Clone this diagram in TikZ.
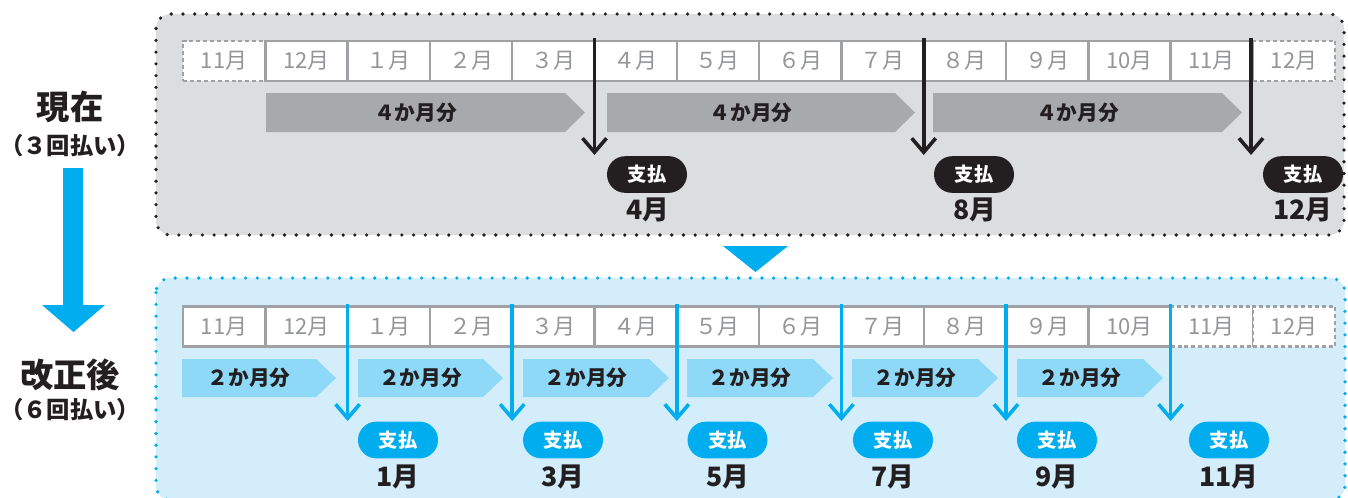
\documentclass[tikz,border=0pt]{standalone}
\usepackage{fontspec}
\setmainfont{Noto Sans CJK JP}
\usetikzlibrary{arrows.meta}
\definecolor{boxgray}{HTML}{DCDDDE}
\definecolor{arrgray}{HTML}{A7A9AC}
\definecolor{cellline}{HTML}{A0A1A4}
\definecolor{celltext}{HTML}{939598}
\definecolor{ink}{HTML}{231F20}
\definecolor{cyanb}{HTML}{00AEEF}
\definecolor{boxblue}{HTML}{D3EEFA}
\definecolor{arrblue}{HTML}{8ED8F8}
\begin{document}
\begin{tikzpicture}[x=0.75pt,y=-0.75pt,
  dotbox/.style={line width=2.7pt,dash pattern=on 0pt off 8.8pt,line cap=round,rounded corners=11pt},
  cell/.style={draw=cellline,line width=1.8pt,fill=white,minimum width=61.72pt,minimum height=30pt,inner sep=0pt,text=celltext,font=\fontsize{16.5}{16.5}\selectfont},
  dcell/.style={cell,dash pattern=on 3pt off 2.2pt},
  seglab/.style={font=\fontsize{15.5}{15.5}\selectfont\bfseries,text=ink,inner sep=0pt},
  pillK/.style={fill=ink,text=white,minimum width=60pt,minimum height=27.5pt,rounded corners=13.7pt,inner sep=0pt,font=\fontsize{14.5}{14.5}\selectfont\bfseries},
  pillB/.style={pillK,fill=cyanb},
  monlab/.style={font=\fontsize{20}{20}\selectfont\bfseries,text=ink,inner sep=0pt},
  paydown/.style={line width=2.7pt,-{Straight Barb[length=10.5pt,width=18pt]}},
  sidebig/.style={font=\fontsize{25}{25}\selectfont\bfseries,text=ink,inner sep=0pt},
  sidesmall/.style={font=\fontsize{17.5}{17.5}\selectfont\bfseries,text=ink,inner sep=0pt}
]
\clip (0,0) rectangle (1348,497);
\fill[white] (0,0) rectangle (1348,497);

% ---------- top box ----------
\fill[boxgray,rounded corners=11pt] (156,14) rectangle (1344,235);
\draw[dotbox,draw=ink] (156,14) rectangle (1344,235);

\node[dcell] (t1) at ({183+82.3*0.5},61) {11月};
\node[dcell] (t14) at ({183+82.3*13.5},61) {12月};
\foreach \i/\m in {2/12月,3/１月,4/２月,5/３月,6/４月,7/５月,8/６月,9/７月,10/８月,11/９月,12/10月,13/11月}
  \node[cell] (t\i) at ({183+82.3*(\i-0.5)},61) {\m};

\fill[arrgray] (266,93) -- (565,93) -- (585,112.5) -- (565,132) -- (266,132) -- cycle;
\fill[arrgray] (607,93) -- (895,93) -- (915,112.5) -- (895,132) -- (607,132) -- cycle;
\fill[arrgray] (933,93) -- (1222,93) -- (1242,112.5) -- (1222,132) -- (933,132) -- cycle;
\node[seglab] (g1) at (415.5,112.5) {４か月分};
\node[seglab] (g2) at (751,112.5) {４か月分};
\node[seglab] (g3) at (1077.5,112.5) {４か月分};

\foreach \k/\x in {1/594.5,2/923.7,3/1251}{
  \coordinate (ks\k) at (\x,38);
  \coordinate (ke\k) at (\x,155);
  \draw[paydown,draw=ink] (ks\k) -- (ke\k);
}
\node[pillK] (kp1) at (647,174.5) {支払};
\node[pillK] (kp2) at (974,174.5) {支払};
\node[pillK] (kp3) at (1303,174.5) {支払};
\node[monlab] (km1) at (648,210) {4月};
\node[monlab] (km2) at (975,210) {8月};
\node[monlab] (km3) at (1303,210) {12月};

% ---------- side labels ----------
\node[sidebig] (now) at (70,107) {現在};
\node[sidesmall] (now3) at (70,146) {（３回払い）};
\fill[cyanb] (63,168) -- (83,168) -- (83,305) -- (105,305) -- (73.5,332) -- (42,305) -- (63,305) -- cycle;
\node[sidebig] (aft) at (70,375) {改正後};
\node[sidesmall] (aft6) at (70,410) {（６回払い）};

% ---------- middle triangle ----------
\fill[cyanb] (723,246) -- (788,246) -- (755.5,272) -- cycle;

% ---------- bottom box ----------
\fill[boxblue,rounded corners=11pt] (156,278) rectangle (1345,500);
\draw[dotbox,draw=cyanb] (156,278) rectangle (1345,500);

\node[dcell] (b13) at ({183+82.3*12.5},326.5) {11月};
\node[dcell] (b14) at ({183+82.3*13.5},326.5) {12月};
\foreach \i/\m in {1/11月,2/12月,3/１月,4/２月,5/３月,6/４月,7/５月,8/６月,9/７月,10/８月,11/９月,12/10月}
  \node[cell] (b\i) at ({183+82.3*(\i-0.5)},326.5) {\m};

\foreach \s/\t/\n in {182/336/1,358/503/2,523/669/3,687/833/4,852/998/5,1017/1163/6}{
  \fill[arrblue] (\s,359) -- ({\t-20},359) -- (\t,378) -- ({\t-20},397) -- (\s,397) -- cycle;
  \node[seglab] (s\n) at ({(\s+\t-20)/2},378) {２か月分};
}

\foreach \k/\x in {1/347.6,2/512.2,3/676.8,4/841.4,5/1006,6/1170.6}{
  \coordinate (bs\k) at (\x,304);
  \coordinate (be\k) at (\x,421);
  \draw[paydown,draw=cyanb] (bs\k) -- (be\k);
}
\foreach \k/\x/\m in {1/398/1月,2/563/3月,3/727.5/5月,4/893/7月,5/1057/9月,6/1229/11月}{
  \node[pillB] (bp\k) at (\x,440) {支払};
  \node[monlab] (bm\k) at (\x,477) {\m};
}
\end{tikzpicture}
\end{document}
